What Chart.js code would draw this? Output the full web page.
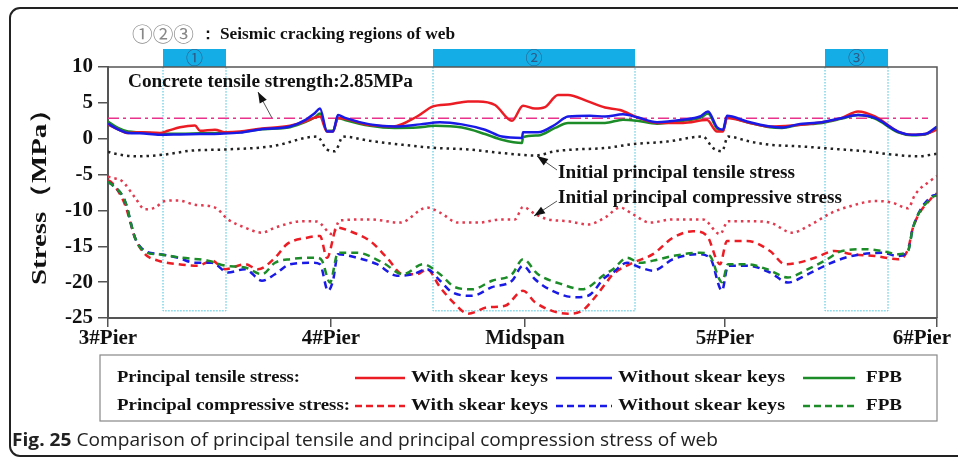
<!DOCTYPE html>
<html>
<head>
<meta charset="utf-8">
<script src="https://cdn.jsdelivr.net/npm/chart.js@4.4.1/dist/chart.umd.min.js"></script>
<style>
  html, body { margin: 0; padding: 0; background: #fff; }
  #wrap { width: 958px; height: 462px; }
</style>
</head>
<body>
<div id="wrap"><canvas id="stressChart" width="958" height="462"></canvas></div>
<script>
// stations along the girder (same units as the x data below)
const stations = [0, 223, 417, 617, 829];
const stationLabels = ['3#Pier', '4#Pier', 'Midspan', '5#Pier', '6#Pier'];
const tensileStrength = 2.85;
// seismic cracking regions: [from, to, tag]
const crackRegions = [[55, 118, '①'], [325, 527, '②'], [717, 780, '③']];

// principal tensile stress (MPa)
const tensileWith = [[0,2.0],[10,1.3],[20,0.8],[32,0.9],[52,0.8],[60,1.1],[72,1.6],[87,1.85],[92,1.1],[107,1.25],[117,0.9],[132,1.0],[152,1.4],[182,1.8],[197,2.4],[212,3.1],[219,1.0],[225,1.0],[230,2.9],[262,1.9],[285,1.7],[309,3.1],[325,4.5],[342,4.8],[360,5.2],[370,5.2],[387,4.7],[404,2.5],[415,4.6],[427,4.2],[437,4.4],[450,6.1],[460,6.1],[480,5.2],[497,4.35],[512,4.0],[529,3.0],[549,2.2],[575,2.2],[599,2.6],[609,1.0],[615,1.0],[619,2.9],[642,2.2],[662,1.7],[684,1.85],[714,2.3],[734,2.9],[750,3.8],[767,3.1],[790,1.0],[804,0.55],[817,0.65],[829,1.25]];
const tensileWithout = [[0,2.1],[10,1.3],[20,0.8],[32,0.75],[52,0.55],[72,0.6],[92,0.65],[112,0.7],[132,0.85],[152,1.3],[182,1.7],[197,2.6],[207,3.6],[212,4.2],[219,1.0],[225,1.0],[230,3.3],[237,2.9],[262,2.0],[287,1.7],[312,2.0],[332,2.3],[354,2.0],[377,1.25],[394,0.3],[414,0.1],[415,0.9],[430,0.9],[447,1.95],[460,3.1],[482,3.2],[497,3.1],[515,3.4],[529,3.0],[549,2.3],[575,2.65],[592,3.1],[600,3.8],[609,1.6],[615,1.25],[619,3.2],[639,2.4],[662,1.7],[674,1.55],[690,2.0],[714,2.3],[734,2.9],[750,3.3],[767,2.9],[790,1.0],[804,0.55],[817,0.65],[829,1.7]];
const tensileFPB = [[0,2.4],[10,1.5],[20,1.0],[32,0.9],[52,0.7],[72,0.7],[92,0.75],[112,0.8],[132,0.9],[152,1.3],[182,1.6],[197,2.3],[207,3.0],[212,3.5],[219,1.1],[225,1.1],[230,2.9],[237,2.6],[262,1.8],[287,1.5],[309,1.55],[327,1.8],[354,1.55],[377,0.65],[394,-0.15],[414,-0.6],[415,0.2],[430,0.45],[447,1.5],[460,2.2],[482,2.2],[497,2.2],[515,2.65],[529,2.5],[549,2.1],[575,2.5],[592,2.9],[600,3.5],[609,1.4],[615,1.1],[619,3.0],[639,2.3],[662,1.6],[674,1.5],[690,1.9],[714,2.2],[734,2.8],[750,3.3],[767,2.8],[790,0.9],[804,0.5],[817,0.6],[829,1.5]];
const initialTensile = [[0,-1.8],[4,-2.0],[30,-2.45],[57,-2.2],[84,-1.65],[117,-1.5],[164,-1.05],[209,0.3],[219,-1.5],[227,-1.75],[235,0.3],[262,-0.3],[295,-0.85],[329,-1.3],[360,-1.5],[394,-2.0],[410,-2.2],[427,-2.35],[447,-1.75],[467,-1.5],[497,-1.3],[525,-0.75],[559,-0.4],[595,0.3],[605,-1.3],[614,-1.75],[620,0.3],[642,-0.4],[662,-0.85],[690,-1.05],[724,-1.4],[757,-1.75],[784,-2.2],[810,-2.45],[829,-2.1]];

// principal compressive stress (MPa)
const compWith = [[0,-5.8],[4,-6.15],[17,-9.2],[27,-13.8],[37,-16.1],[50,-17.0],[70,-17.5],[90,-17.7],[104,-17.0],[117,-18.2],[137,-17.5],[150,-18.2],[167,-16.6],[179,-14.7],[199,-13.8],[212,-13.55],[219,-16.6],[229,-12.4],[242,-12.9],[262,-14.25],[279,-16.6],[295,-18.9],[309,-18.9],[319,-18.2],[332,-20.7],[347,-23.05],[360,-24.4],[380,-23.5],[397,-23.3],[415,-21.2],[427,-22.8],[444,-24.0],[460,-24.4],[474,-24.0],[487,-22.1],[497,-20.3],[505,-18.9],[525,-17.3],[545,-16.1],[565,-13.8],[585,-12.9],[599,-13.55],[612,-17.5],[619,-14.25],[639,-14.25],[662,-15.65],[677,-17.5],[690,-17.3],[707,-16.6],[727,-15.65],[744,-16.1],[767,-16.35],[790,-16.8],[800,-15.4],[805,-12.4],[824,-8.2],[829,-7.6]];
const compWithout = [[0,-6.0],[4,-6.4],[17,-8.7],[27,-13.8],[37,-15.65],[52,-16.1],[70,-16.6],[87,-17.3],[104,-17.3],[120,-18.65],[137,-18.2],[154,-19.8],[167,-18.9],[182,-17.5],[205,-17.3],[212,-17.5],[220,-21.2],[225,-19.8],[230,-16.1],[249,-16.6],[269,-17.5],[289,-19.1],[305,-18.9],[319,-18.2],[332,-19.8],[344,-21.4],[364,-21.9],[384,-20.7],[404,-19.8],[415,-17.7],[427,-19.6],[444,-21.2],[467,-22.1],[480,-21.9],[497,-19.35],[505,-18.65],[519,-17.3],[532,-17.95],[545,-18.4],[565,-16.8],[589,-16.1],[602,-16.6],[614,-21.2],[620,-17.7],[639,-17.7],[662,-18.65],[680,-20.05],[697,-19.1],[717,-17.7],[737,-16.6],[754,-16.1],[774,-15.9],[790,-16.35],[800,-15.65],[805,-12.4],[824,-8.0],[829,-7.8]];
const compFPB = [[0,-6.0],[4,-6.4],[17,-8.7],[27,-13.8],[37,-15.8],[50,-16.1],[74,-16.6],[100,-17.0],[117,-17.7],[137,-17.95],[154,-18.9],[167,-17.3],[182,-16.8],[209,-16.6],[214,-17.0],[222,-20.05],[230,-15.9],[249,-15.9],[275,-17.3],[295,-18.9],[315,-17.5],[332,-18.9],[347,-20.7],[364,-21.0],[384,-19.8],[404,-18.9],[415,-16.8],[430,-18.9],[454,-20.3],[474,-21.0],[497,-18.9],[505,-18.2],[519,-16.6],[532,-17.3],[545,-17.0],[565,-16.35],[592,-15.9],[602,-16.35],[614,-20.0],[620,-17.5],[639,-17.5],[659,-18.2],[680,-19.35],[697,-18.4],[717,-17.0],[734,-15.65],[757,-15.4],[774,-15.65],[790,-16.1],[800,-15.65],[805,-12.4],[824,-8.2],[829,-7.9]];
const initialComp = [[0,-5.3],[4,-5.45],[14,-5.9],[27,-8.2],[37,-9.85],[47,-9.6],[57,-8.7],[70,-8.6],[87,-9.2],[107,-9.6],[120,-11.25],[137,-12.4],[154,-13.1],[167,-12.4],[195,-11.5],[209,-11.55],[224,-13.3],[232,-11.4],[262,-11.25],[292,-11.7],[319,-9.6],[332,-10.3],[350,-11.7],[370,-11.7],[394,-11.25],[407,-11.25],[415,-9.5],[427,-10.5],[440,-11.25],[460,-11.5],[480,-11.95],[497,-11.0],[512,-9.6],[525,-10.55],[542,-11.7],[565,-11.25],[595,-11.25],[612,-13.3],[620,-11.5],[642,-11.5],[662,-11.7],[684,-13.1],[700,-12.2],[724,-10.3],[740,-9.5],[767,-8.7],[784,-8.9],[800,-9.7],[807,-7.8],[824,-5.7],[829,-5.2]];

const RED = '#ec1c24';
const BLUE = '#1a1ae6';
const GREEN = '#1c8c28';
const SERIF = '"Liberation Serif", "Times New Roman", serif';

const toXY = pts => pts.map(p => ({ x: p[0], y: p[1] }));

function line(label, pts, color, style) {
  const ds = {
    label: label,
    data: toXY(pts),
    borderColor: color,
    borderWidth: 2.5,
    pointRadius: 0,
    fill: false,
    cubicInterpolationMode: 'monotone'
  };
  if (style === 'dash') ds.borderDash = [7, 5];
  if (style === 'dot') ds.borderDash = [2.5, 4];
  return ds;
}

// text stretched to the width it has in the figure
function fitText(ctx, txt, x, y, width) {
  const w = ctx.measureText(txt).width;
  ctx.save();
  ctx.translate(x, y);
  ctx.scale(width / w, 1);
  ctx.fillText(txt, 0, 0);
  ctx.restore();
}

function arrow(ctx, x0, y0, x1, y1) {
  ctx.save();
  ctx.strokeStyle = '#555';
  ctx.lineWidth = 1;
  ctx.beginPath();
  ctx.moveTo(x0, y0);
  ctx.lineTo(x1, y1);
  ctx.stroke();
  const a = Math.atan2(y1 - y0, x1 - x0);
  ctx.fillStyle = '#111';
  ctx.beginPath();
  ctx.moveTo(x1, y1);
  ctx.lineTo(x1 - 11 * Math.cos(a) + 4 * Math.sin(a), y1 - 11 * Math.sin(a) - 4 * Math.cos(a));
  ctx.lineTo(x1 - 11 * Math.cos(a) - 4 * Math.sin(a), y1 - 11 * Math.sin(a) + 4 * Math.cos(a));
  ctx.closePath();
  ctx.fill();
  ctx.restore();
}

const extras = {
  id: 'extras',
  beforeDraw(chart) {
    const ctx = chart.ctx;
    ctx.save();
    ctx.fillStyle = '#fff';
    ctx.fillRect(0, 0, chart.width, chart.height);
    ctx.restore();
  },
  beforeDatasetsDraw(chart) {
    const { ctx, chartArea: a, scales: { x, y } } = chart;
    ctx.save();
    const b = y.getPixelForValue(-24);
    crackRegions.forEach(([x0, x1, tag]) => {
      const l = x.getPixelForValue(x0), r = x.getPixelForValue(x1);
      ctx.fillStyle = '#14ade6';
      ctx.fillRect(l, a.top - 18, r - l, 18);
      ctx.strokeStyle = '#3fc0dc';
      ctx.lineWidth = 1;
      ctx.setLineDash([1.5, 1.5]);
      ctx.beginPath();
      ctx.moveTo(l, a.top);
      ctx.lineTo(l, b);
      ctx.lineTo(r, b);
      ctx.lineTo(r, a.top);
      ctx.stroke();
      ctx.setLineDash([]);
      ctx.fillStyle = '#2d5a86';
      ctx.font = '17px "Noto Sans CJK SC"';
      ctx.textAlign = 'center';
      ctx.textBaseline = 'middle';
      ctx.fillText(tag, (l + r) / 2, a.top - 9);
    });
    ctx.restore();
  },
  afterDraw(chart) {
    const { ctx, chartArea: a, scales: { x } } = chart;
    ctx.save();
    // frame top and right
    ctx.strokeStyle = '#555';
    ctx.lineWidth = 1.5;
    ctx.beginPath();
    ctx.moveTo(a.left, a.top);
    ctx.lineTo(a.right, a.top);
    ctx.lineTo(a.right, a.bottom);
    ctx.stroke();

    // station labels under the x axis (kept inside the figure)
    ctx.fillStyle = '#111';
    ctx.font = 'bold 21px ' + SERIF;
    ctx.textAlign = 'left';
    ctx.textBaseline = 'middle';
    stations.forEach((v, i) => {
      const w = ctx.measureText(stationLabels[i]).width;
      const l = Math.min(x.getPixelForValue(v) - w / 2, 951 - w);
      ctx.fillText(stationLabels[i], l, a.bottom + 21);
    });

    // heading
    ctx.fillStyle = '#888';
    ctx.font = '20px "Noto Sans CJK SC"';
    fitText(ctx, '①②③', 132, 34, 62);
    ctx.fillStyle = '#111';
    ctx.font = 'bold 16px ' + SERIF;
    ctx.fillText('：', 200, 35);
    fitText(ctx, 'Seismic cracking regions of web', 220, 35, 235);

    // y title
    ctx.save();
    ctx.translate(40, 190);
    ctx.rotate(-Math.PI / 2);
    ctx.font = 'bold 22px ' + SERIF;
    fitText(ctx, 'Stress（MPa）', -95, 0, 190);
    ctx.restore();

    // annotations
    ctx.font = 'bold 18px ' + SERIF;
    fitText(ctx, 'Concrete tensile strength:2.85MPa', 128, 82, 285);
    arrow(ctx, 272, 118, 258, 92);
    fitText(ctx, 'Initial principal tensile stress', 558, 173, 237);
    arrow(ctx, 557, 170, 537, 156);
    fitText(ctx, 'Initial principal compressive stress', 558, 198, 284);
    arrow(ctx, 557, 201, 534, 216);

    // legend box
    ctx.strokeStyle = '#888';
    ctx.lineWidth = 1.2;
    ctx.strokeRect(100, 355, 837, 66);
    ctx.font = 'bold 16px ' + SERIF;
    const rows = [['Principal tensile stress:', 183, [], 378], ['Principal compressive stress:', 233, [7, 4], 406]];
    const cols = [[355, 405, 411, 137, RED, 'With skear keys'], [556, 612, 618, 167, BLUE, 'Without skear keys'], [803, 855, 866, 36, GREEN, 'FPB']];
    rows.forEach(([txt, tw, dash, ry]) => {
      ctx.fillStyle = '#111';
      fitText(ctx, txt, 117, ry, tw);
      cols.forEach(([s, e, tx, lw, c, lbl]) => {
        ctx.strokeStyle = c;
        ctx.lineWidth = 2.5;
        ctx.setLineDash(dash);
        ctx.beginPath();
        ctx.moveTo(s, ry);
        ctx.lineTo(e, ry);
        ctx.stroke();
        ctx.setLineDash([]);
        ctx.fillStyle = '#111';
        fitText(ctx, lbl, tx, ry, lw);
      });
    });

    // caption
    ctx.fillStyle = '#222';
    ctx.font = 'bold 18px "Open Sans"';
    const head = 'Fig. 25 ';
    const hw = ctx.measureText(head).width;
    ctx.font = '18px "Open Sans"';
    const body = 'Comparison of principal tensile and principal compression stress of web';
    const bw = ctx.measureText(body).width;
    const k = 706 / (hw + bw);
    ctx.save();
    ctx.translate(12, 441);
    ctx.scale(k, 1);
    ctx.font = 'bold 18px "Open Sans"';
    ctx.fillText(head, 0, 0);
    ctx.font = '18px "Open Sans"';
    ctx.fillText(body, hw, 0);
    ctx.restore();

    // outer rounded border
    ctx.strokeStyle = '#222';
    ctx.lineWidth = 2;
    ctx.beginPath();
    ctx.roundRect(10, 8, 970, 448, 10);
    ctx.stroke();
    ctx.restore();
  }
};

new Chart(document.getElementById('stressChart'), {
  type: 'line',
  data: {
    datasets: [
      line('Without skear keys (tensile)', tensileWithout, BLUE),
      line('With skear keys (tensile)', tensileWith, RED),
      line('FPB (tensile)', tensileFPB, GREEN),
      line('Initial principal tensile stress', initialTensile, '#222', 'dot'),
      line('FPB (compressive)', compFPB, GREEN, 'dash'),
      line('Without skear keys (compressive)', compWithout, BLUE, 'dash'),
      line('With skear keys (compressive)', compWith, RED, 'dash'),
      line('Initial principal compressive stress', initialComp, '#e23a4e', 'dot'),
      {
        label: 'Concrete tensile strength',
        data: [{ x: 0, y: tensileStrength }, { x: 820, y: tensileStrength }],
        borderColor: '#e8328c',
        borderWidth: 1.5,
        borderDash: [11, 4, 3, 4],
        pointRadius: 0
      }
    ]
  },
  options: {
    responsive: false,
    animation: false,
    layout: { padding: { top: 67, right: 21, left: 0, bottom: 0 } },
    plugins: { legend: { display: false }, tooltip: { enabled: false } },
    scales: {
      x: {
        type: 'linear',
        min: 0,
        max: 829,
        afterBuildTicks: s => { s.ticks = stations.map(v => ({ value: v })); },
        afterFit: s => { s.height = 144; s.paddingLeft = 0; s.paddingRight = 0; },
        ticks: { display: false },
        grid: { drawOnChartArea: false, drawTicks: true, tickLength: 9, color: '#555', lineWidth: 1.5 },
        border: { display: true, color: '#555', width: 2 }
      },
      y: {
        min: -25,
        max: 10,
        afterFit: s => { s.width = 108; s.paddingTop = 0; s.paddingBottom = 0; },
        ticks: {
          stepSize: 5,
          padding: 5,
          color: '#111',
          font: { family: SERIF, size: 21, weight: 'bold' }
        },
        grid: { drawOnChartArea: false, drawTicks: true, tickLength: 10, color: '#555', lineWidth: 1.5 },
        border: { display: true, color: '#555', width: 2 }
      }
    }
  },
  plugins: [extras]
});
</script>
</body>
</html>
